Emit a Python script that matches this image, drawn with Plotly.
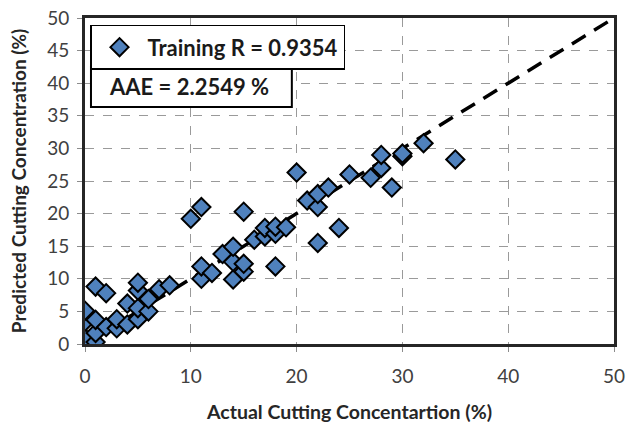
import plotly.graph_objects as go

# Actual vs predicted cutting concentration (%), training set
actual = [0, 0, 0, 0, 1, 1, 1, 1, 2, 2, 3, 3, 4, 4, 5, 5, 5, 5, 6, 6, 7, 8,
          10, 11, 11, 11, 12, 13, 14, 14, 14, 15, 15, 15, 16, 17, 17, 18, 18, 18, 19,
          20, 21, 22, 22, 22, 23, 24, 25, 27, 28, 28, 29, 30, 30, 32, 35]
predicted = [0.5, 0.9, 3.4, 5.1, 0.3, 1.7, 3.7, 8.8, 2.6, 7.8, 2.4, 3.8, 3.0, 6.2,
             3.8, 5.5, 8.2, 9.4, 5.0, 6.9, 8.4, 9.0,
             19.2, 10.0, 11.9, 21.0, 10.9, 13.8, 9.9, 12.6, 14.9, 11.1, 12.3, 20.3,
             16.0, 16.5, 17.8, 11.9, 16.9, 18.0, 17.9,
             26.3, 22.0, 15.5, 21.0, 23.0, 24.0, 17.8, 26.0, 25.5, 27.0, 29.0, 24.0,
             28.8, 29.2, 30.8, 28.3]

ideal_line = [0, 50]
x_ticks = [0, 10, 20, 30, 40, 50]
y_ticks = [0, 5, 10, 15, 20, 25, 30, 35, 40, 45, 50]

legend_label = "Training R = 0.9354"
aae_label = "AAE = 2.2549 %"

FONT = "Lato, 'Open Sans', sans-serif"

fig = go.Figure()

# 1:1 reference line
fig.add_trace(go.Scatter(
    x=ideal_line, y=ideal_line, mode="lines",
    line=dict(color="black", width=3.5, dash="16px,10px"),
    showlegend=False, hoverinfo="skip",
))

fig.add_trace(go.Scatter(
    x=actual, y=predicted, mode="markers", name=legend_label,
    marker=dict(symbol="diamond", size=14, color="#4F81BD",
                line=dict(color="black", width=2)),
))

axis_common = dict(
    showgrid=True, gridcolor="#9a9a9a", gridwidth=1, griddash="dash",
    showline=True, linecolor="#262626", linewidth=3, mirror=True,
    ticks="outside", ticklen=5, tickcolor="#8c8c8c", tickwidth=1,
    zeroline=False, automargin=False,
    tickfont=dict(family=FONT, size=19, color="#404040"),
)

fig.update_xaxes(
    range=[0, 50], tickvals=x_ticks, ticklabelstandoff=8,
    title=dict(text="<b>Actual Cutting Concentartion (%)</b>",
               font=dict(family=FONT, size=19.5, color="#262626"), standoff=24),
    **axis_common,
)
fig.update_yaxes(
    range=[0, 50], tickvals=y_ticks, ticklabelstandoff=4,
    title=dict(text="<b>Predicted Cutting Concentration (%)</b>",
               font=dict(family=FONT, size=19, color="#262626"), standoff=16),
    **axis_common,
)

# AAE annotation: framed box with bold text
fig.add_shape(
    type="rect", xref="paper", yref="paper",
    x0=0.0113, x1=0.391, y0=0.727, y1=0.850,
    line=dict(color="black", width=2), fillcolor="white", layer="above",
)
fig.add_annotation(
    xref="paper", yref="paper", x=0.0416, y=0.789, xanchor="left", yanchor="middle",
    text="<b>" + aae_label + "</b>", showarrow=False,
    font=dict(family=FONT, size=22, color="#1a1a1a"),
)

fig.update_layout(
    width=627, height=423,
    margin=dict(l=85, r=13, t=18, b=79),
    paper_bgcolor="white", plot_bgcolor="white",
    showlegend=True,
    legend=dict(
        x=0.0095, y=0.979, xanchor="left", yanchor="top",
        bgcolor="white", bordercolor="black", borderwidth=1.5,
        font=dict(family=FONT, size=22, color="#1a1a1a", weight="bold"),
        itemwidth=46,
    ),
)

fig.write_html("out.html")
